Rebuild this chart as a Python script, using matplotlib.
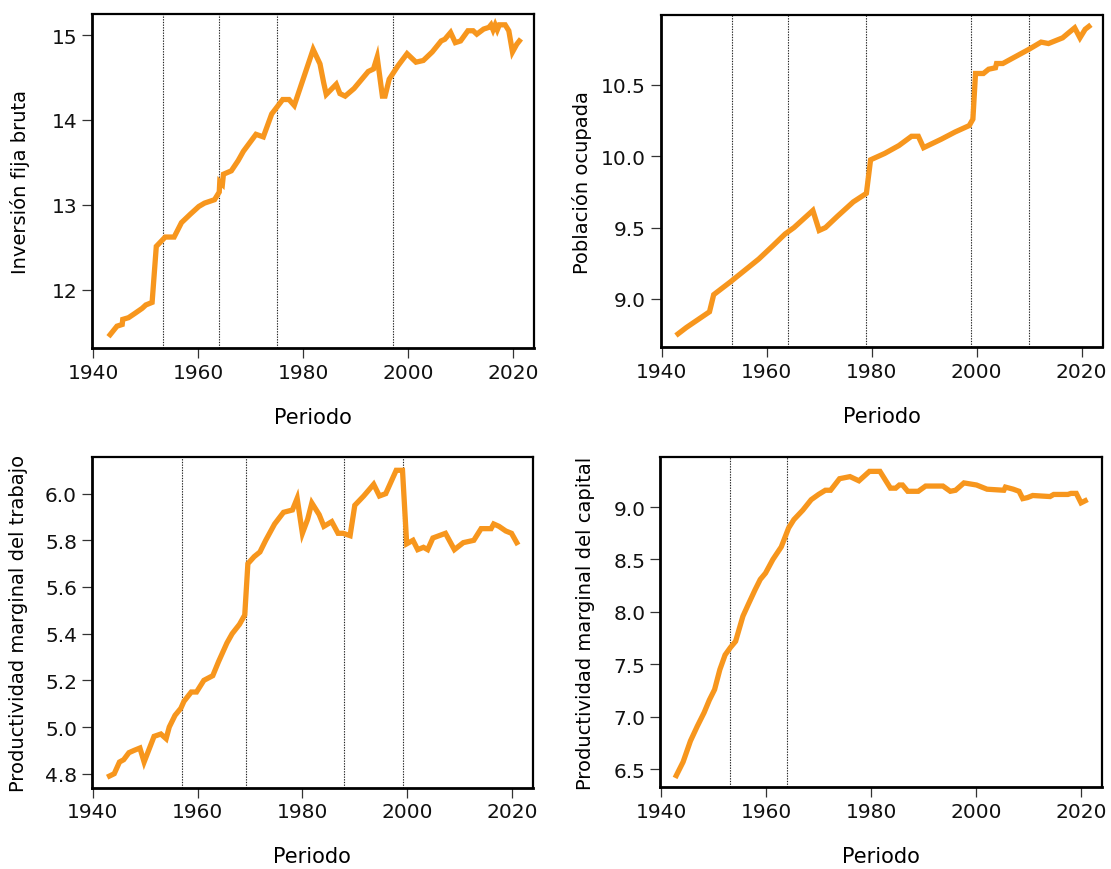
import matplotlib
matplotlib.use("Agg")
import matplotlib.pyplot as plt

plt.rcParams['font.family'] = ['DejaVu Sans']

# ---------------- data ----------------
years_inv = [1943.2, 1944.5, 1945.5, 1945.6, 1946.7, 1947.9, 1949.3, 1950.0, 1951.2, 1952.0,
             1953.7, 1955.4, 1956.8, 1958.5, 1960.1, 1961.2, 1963.1, 1964.0, 1964.1, 1964.6,
             1964.8, 1966.3, 1967.6, 1968.6, 1971.0, 1972.4, 1974.0, 1976.1, 1977.3, 1978.3,
             1981.9, 1983.2, 1983.9, 1984.4, 1986.3, 1987.0, 1988.0, 1989.7, 1992.4, 1993.4,
             1994.1, 1995.1, 1995.6, 1996.4, 1998.1, 1999.8, 2001.5, 2002.9, 2004.6, 2006.3,
             2007.0, 2008.1, 2009.0, 2010.0, 2011.4, 2012.4, 2013.1, 2014.4, 2015.4, 2015.8,
             2016.2, 2016.6, 2017.0, 2017.4, 2018.5, 2019.2, 2019.9, 2020.7, 2021.2]
inversion = [11.47, 11.57, 11.59, 11.65, 11.67, 11.72, 11.78, 11.82, 11.85, 12.51,
             12.62, 12.62, 12.79, 12.89, 12.98, 13.02, 13.06, 13.15, 13.27, 13.24,
             13.36, 13.40, 13.52, 13.63, 13.83, 13.80, 14.07, 14.24, 14.24, 14.17,
             14.83, 14.66, 14.44, 14.30, 14.42, 14.31, 14.28, 14.37, 14.57, 14.60,
             14.74, 14.28, 14.28, 14.48, 14.64, 14.78, 14.68, 14.70, 14.80, 14.93,
             14.95, 15.03, 14.91, 14.93, 15.05, 15.05, 15.01, 15.07, 15.09, 15.12,
             15.06, 15.12, 15.06, 15.12, 15.12, 15.05, 14.80, 14.89, 14.93]
breaks_inv = [1953.2, 1964.0, 1975.1, 1997.2]

years_pob = [1943.1, 1944.7, 1947.1, 1949.1, 1949.9, 1953.1, 1955.8, 1958.5, 1961.1, 1963.5,
             1965.2, 1968.8, 1970.0, 1971.2, 1973.5, 1976.5, 1979.0, 1979.8, 1982.5, 1985.2,
             1987.6, 1988.9, 1989.9, 1993.3, 1995.9, 1998.6, 1999.3, 1999.8, 2001.3, 2002.3,
             2003.6, 2003.8, 2005.0, 2008.0, 2010.0, 2012.3, 2013.7, 2016.4, 2017.7, 2018.7,
             2019.7, 2020.7, 2021.4]
poblacion = [8.755, 8.80, 8.86, 8.91, 9.03, 9.12, 9.20, 9.28, 9.37, 9.455,
             9.50, 9.62, 9.48, 9.50, 9.58, 9.68, 9.74, 9.975, 10.02, 10.075,
             10.14, 10.14, 10.06, 10.12, 10.17, 10.215, 10.26, 10.58, 10.58, 10.61,
             10.62, 10.65, 10.65, 10.71, 10.75, 10.80, 10.79, 10.83, 10.87, 10.90,
             10.83, 10.89, 10.91]
breaks_pob = [1953.3, 1964.0, 1979.0, 1999.0, 2010.0]

years_pmt = [1943.2, 1944.1, 1945.1, 1945.9, 1946.9, 1947.9, 1949.0, 1949.8, 1951.7, 1953.0,
             1954.0, 1954.6, 1955.7, 1956.8, 1957.4, 1958.8, 1959.8, 1961.2, 1962.9, 1964.0,
             1965.6, 1966.6, 1968.0, 1969.0, 1969.6, 1970.8, 1971.9, 1973.0, 1974.7, 1976.4,
             1978.1, 1979.0, 1980.0, 1981.0, 1981.8, 1983.2, 1984.1, 1985.6, 1986.8, 1987.8,
             1989.1, 1990.0, 1991.7, 1993.6, 1994.7, 1995.9, 1997.9, 1999.1, 1999.9, 2001.1,
             2002.0, 2003.1, 2003.9, 2004.9, 2007.3, 2009.0, 2010.7, 2012.7, 2014.1, 2016.0,
             2016.5, 2017.5, 2018.8, 2019.9, 2020.9]
pm_trabajo = [4.79, 4.80, 4.85, 4.86, 4.89, 4.90, 4.91, 4.85, 4.96, 4.97,
              4.95, 5.00, 5.05, 5.08, 5.11, 5.15, 5.15, 5.20, 5.22, 5.28,
              5.36, 5.40, 5.44, 5.48, 5.70, 5.73, 5.75, 5.80, 5.87, 5.92,
              5.93, 5.98, 5.83, 5.89, 5.96, 5.91, 5.86, 5.88, 5.83, 5.83,
              5.82, 5.95, 5.99, 6.04, 5.99, 6.00, 6.10, 6.10, 5.785, 5.80,
              5.76, 5.77, 5.76, 5.81, 5.83, 5.76, 5.79, 5.80, 5.85, 5.85,
              5.87, 5.86, 5.84, 5.83, 5.79]
breaks_pmt = [1957.0, 1969.2, 1988.0, 1999.2]

years_pmk = [1942.9, 1944.2, 1945.6, 1946.9, 1948.2, 1949.2, 1950.2, 1951.2, 1952.2, 1953.2,
             1954.2, 1955.6, 1956.6, 1957.9, 1958.9, 1959.9, 1961.3, 1962.9, 1964.3, 1965.3,
             1967.0, 1968.6, 1970.0, 1971.3, 1972.3, 1974.0, 1976.0, 1977.7, 1979.7, 1981.7,
             1983.7, 1984.7, 1985.4, 1986.0, 1987.0, 1989.0, 1990.4, 1993.7, 1995.1, 1996.1,
             1997.7, 2000.1, 2002.1, 2005.3, 2005.6, 2007.1, 2008.2, 2008.9, 2009.8, 2010.8,
             2014.1, 2014.8, 2017.5, 2018.1, 2019.1, 2020.0, 2020.8]
pm_capital = [6.44, 6.57, 6.77, 6.91, 7.04, 7.16, 7.26, 7.45, 7.59, 7.66,
              7.72, 7.96, 8.07, 8.21, 8.31, 8.37, 8.50, 8.62, 8.80, 8.88,
              8.97, 9.07, 9.12, 9.16, 9.16, 9.27, 9.29, 9.25, 9.34, 9.34,
              9.18, 9.18, 9.21, 9.21, 9.15, 9.15, 9.20, 9.20, 9.15, 9.16,
              9.23, 9.21, 9.17, 9.16, 9.19, 9.17, 9.15, 9.08, 9.09, 9.11,
              9.10, 9.12, 9.12, 9.13, 9.13, 9.04, 9.06]
breaks_pmk = [1953.2, 1964.0]

x_ticks = [1940, 1960, 1980, 2000, 2020]
y_ticks_inv = [12, 13, 14, 15]
y_ticks_pob = [9.0, 9.5, 10.0, 10.5]
y_ticks_pmt = [4.8, 5.0, 5.2, 5.4, 5.6, 5.8, 6.0]
y_ticks_pmk = [6.5, 7.0, 7.5, 8.0, 8.5, 9.0]

# ---------------- figure ----------------
W, H = 1111, 870
fig = plt.figure(figsize=(W / 100, H / 100), dpi=100)

LINE_COLOR = '#F7961D'

panels = [
    (years_inv, inversion, breaks_inv, y_ticks_inv, '{:.0f}', 'Inversión fija bruta',
     (11.313, 15.251), [92.3, 14.7, 534.0, 349.0], 15.5),
    (years_pob, poblacion, breaks_pob, y_ticks_pob, '{:.1f}', 'Población ocupada',
     (8.661, 10.99), [660.7, 16.0, 1102.5, 348.3], 6.5),
    (years_pmt, pm_trabajo, breaks_pmt, y_ticks_pmt, '{:.1f}', 'Productividad marginal del trabajo',
     (4.74, 6.157), [91.7, 458.0, 533.0, 788.7], 12.0),
    (years_pmk, pm_capital, breaks_pmk, y_ticks_pmk, '{:.1f}', 'Productividad marginal del capital',
     (6.331, 9.477), [660.0, 458.0, 1102.0, 788.0], 13.5),
]

for xs, ys, brks, yt, fmt, ylab, ylim, (l, t, r, b), ypad in panels:
    ax = fig.add_axes([l / W, 1 - b / H, (r - l) / W, (b - t) / H])
    for v in brks:
        ax.axvline(v, color='#222222', lw=0.8, ls=(0, (1.2, 1.2)), zorder=1)
    ax.plot(xs, ys, color=LINE_COLOR, lw=3.8, solid_joinstyle='miter', zorder=3)
    ax.set_xlim(1939.8, 2024.0)
    ax.set_ylim(*ylim)
    ax.set_xticks(x_ticks)
    ax.set_xticklabels([str(v) for v in x_ticks])
    ax.set_yticks(yt)
    ax.set_yticklabels([fmt.format(v) for v in yt])
    for name, s in ax.spines.items():
        s.set_linewidth(2.0 if name in ('left', 'bottom') else 1.6)
        s.set_color('black')
    ax.tick_params(axis='both', direction='out', length=7, width=0.9, color='#333333',
                   labelsize=14.5, labelcolor='#111111', pad=3.5)
    ax.set_xlabel('Periodo', fontsize=15, color='black', labelpad=18)
    ax.set_ylabel(ylab, fontsize=14, color='black', labelpad=ypad)

fig.savefig('out.png', dpi=100)
